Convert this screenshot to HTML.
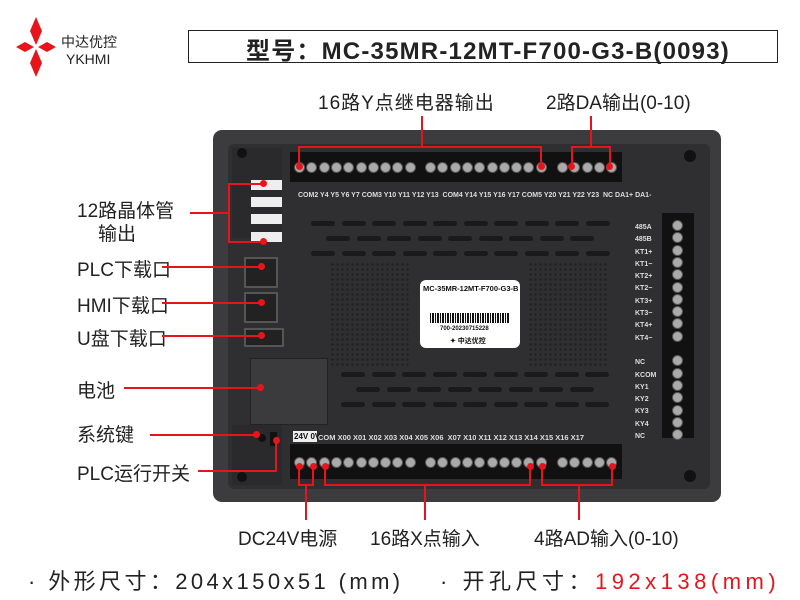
<!DOCTYPE html><html><head><meta charset="utf-8"><style>
body{margin:0;width:800px;height:600px;background:#fff;position:relative;overflow:hidden;font-family:"Liberation Sans","Noto Sans CJK SC",sans-serif}
.a{position:absolute}
.t{position:absolute;font-size:19px;color:#222;white-space:nowrap}
.r{position:absolute;background:#e8141b}
.d{position:absolute;width:7px;height:7px;border-radius:50%;background:#e8141b}
.sl{position:absolute;height:5px;width:24px;border-radius:3px;background:#1a1a1a}
.scr{position:absolute;width:9px;height:9px;border-radius:50%;background:#aaa;border:1px solid #555}
.sm{position:absolute;font-size:7px;color:#ddd;font-weight:bold;white-space:nowrap}
</style></head><body>
<svg class="a" style="left:16px;top:17px" width="40" height="60" viewBox="0 0 40 60"><polygon points="20,0 26,14 20,28 14,14" fill="#e8141b"/><polygon points="20,32 26,46 20,60 14,46" fill="#e8141b"/><polygon points="0,30 9,25 18,30 9,35" fill="#e8141b"/><polygon points="22,30 31,25 40,30 31,35" fill="#e8141b"/></svg>
<div class="t" style="left:61px;top:32px;font-size:14px">中达优控</div>
<div class="t" style="left:66px;top:51px;font-size:14px">YKHMI</div>
<div class="a" style="left:188px;top:30px;width:590px;height:33px;border:1.5px solid #222;box-sizing:border-box"></div>
<div class="t" style="left:246px;top:31px;font-size:24px;font-weight:bold;letter-spacing:1.2px">型号：MC-35MR-12MT-F700-G3-B(0093)</div>
<div class="t" style="left:318px;top:88px;letter-spacing:1px">16路Y点继电器输出</div>
<div class="t" style="left:546px;top:88px">2路DA输出(0-10)</div>

<div class="a" style="left:213px;top:130px;width:508px;height:372px;background:#3c3c3e;border-radius:9px"></div>
<div class="a" style="left:228px;top:144px;width:482px;height:345px;background:#2f2f31;border-radius:6px"></div>
<div class="a" style="left:290px;top:152px;width:332px;height:30px;background:#111"></div>
<div class="a" style="left:290px;top:444px;width:332px;height:35px;background:#111"></div>
<div class="a" style="left:662px;top:213px;width:32px;height:225px;background:#111"></div>
<div class="a" style="left:232px;top:148px;width:50px;height:90px;background:#2a2a2c"></div>
<div class="a" style="left:251px;top:180px;width:31px;height:10px;background:#eee"></div>
<div class="a" style="left:251px;top:197px;width:31px;height:10px;background:#eee"></div>
<div class="a" style="left:251px;top:214px;width:31px;height:10px;background:#eee"></div>
<div class="a" style="left:251px;top:232px;width:31px;height:10px;background:#eee"></div>
<div class="a" style="left:244px;top:257px;width:30px;height:27px;background:#222;border:2px solid #555"></div>
<div class="a" style="left:244px;top:292px;width:30px;height:27px;background:#222;border:2px solid #555"></div>
<div class="a" style="left:244px;top:328px;width:36px;height:15px;background:#222;border:2px solid #555"></div>
<div class="a" style="left:250px;top:358px;width:76px;height:65px;background:#3b3b3d;border:1px solid #222"></div>
<div class="a" style="left:330px;top:262px;width:80px;height:105px;background:radial-gradient(#222 35%,transparent 40%) 0 0/5px 5px"></div>
<div class="a" style="left:528px;top:262px;width:80px;height:105px;background:radial-gradient(#222 35%,transparent 40%) 0 0/5px 5px"></div>
<div class="a" style="left:420px;top:280px;width:100px;height:68px;background:#fff;border-radius:6px"></div>
<div class="sm" style="left:423px;top:284px;color:#111;font-size:7.5px">MC-35MR-12MT-F700-G3-B</div>
<div class="a" style="left:430px;top:313px;width:80px;height:10px;background:repeating-linear-gradient(90deg,#111 0 1px,#fff 1px 2px,#111 2px 4px,#fff 4px 5px)"></div>
<div class="sm" style="left:440px;top:326px;color:#111;font-size:6px">700-20230715228</div>
<div class="sm" style="left:450px;top:336px;color:#111;font-size:7px">✦ 中达优控</div>
<div id="slots"></div>
<div class="a" style="left:232px;top:425px;width:50px;height:60px;background:#2a2a2c"></div>
<div class="a" style="left:258px;top:434px;width:8px;height:8px;border-radius:50%;background:#111"></div>
<div class="a" style="left:270px;top:432px;width:7px;height:14px;background:#111"></div>
<div class="a" style="left:293px;top:431px;width:24px;height:11px;background:#eee"></div>
<div class="sm" style="left:294px;top:432px;color:#111;font-size:8px">24V 0V</div>
<div class="sm" style="left:318px;top:433px;font-size:7.5px">COM X00 X01 X02 X03 X04 X05 X06 &nbsp;X07 X10 X11 X12 X13 X14 X15 X16 X17</div>
<div class="sm" style="left:298px;top:192px;font-size:7px">COM2 Y4 Y5 Y6 Y7 COM3 Y10 Y11 Y12 Y13 &nbsp;COM4 Y14 Y15 Y16 Y17 COM5 Y20 Y21 Y22 Y23 &nbsp;NC DA1+ DA1-</div>
<div class="sm" style="left:635px;top:222px;line-height:12.3px">485A<br>485B<br>KT1+<br>KT1−<br>KT2+<br>KT2−<br>KT3+<br>KT3−<br>KT4+<br>KT4−<br><br>NC<br>KCOM<br>KY1<br>KY2<br>KY3<br>KY4<br>NC</div>
<div class="a" style="left:237px;top:148px;width:10px;height:10px;border-radius:50%;background:#111"></div>
<div class="a" style="left:684px;top:150px;width:12px;height:12px;border-radius:50%;background:#111"></div>
<div class="a" style="left:684px;top:470px;width:12px;height:12px;border-radius:50%;background:#111"></div>
<div class="a" style="left:237px;top:472px;width:10px;height:10px;border-radius:50%;background:#111"></div>
<script>
var s='';
function sl(y,x0,n){for(var i=0;i<n;i++)s+='<div class="sl" style="left:'+(x0+i*30.5)+'px;top:'+y+'px"></div>';}
sl(221,311,10);sl(236,326,9);sl(251,311,10);sl(372,341,9);sl(387,356,8);sl(402,341,9);
for(var i=0;i<10;i++){s+='<div class="scr" style="left:'+(294+i*12.3)+'px;top:162px"></div><div class="scr" style="left:'+(294+i*12.3)+'px;top:457px"></div>';
s+='<div class="scr" style="left:'+(425+i*12.3)+'px;top:162px"></div><div class="scr" style="left:'+(425+i*12.3)+'px;top:457px"></div>';}
for(var i=0;i<5;i++){s+='<div class="scr" style="left:'+(557+i*12.3)+'px;top:162px"></div><div class="scr" style="left:'+(557+i*12.3)+'px;top:457px"></div>';}
for(var i=0;i<18;i++){if(i==10)continue;s+='<div class="scr" style="left:672px;top:'+(220+i*12.3)+'px"></div>';}
document.getElementById('slots').innerHTML=s;
</script>

<div class="r" style="left:421px;top:116px;width:2px;height:32px"></div>
<div class="r" style="left:298px;top:146px;width:244px;height:2px"></div>
<div class="r" style="left:298px;top:146px;width:2px;height:20px"></div>
<div class="r" style="left:540px;top:146px;width:2px;height:20px"></div>
<div class="d" style="left:296px;top:163px"></div><div class="d" style="left:538px;top:163px"></div>
<div class="r" style="left:590px;top:116px;width:2px;height:32px"></div>
<div class="r" style="left:571px;top:146px;width:40px;height:2px"></div>
<div class="r" style="left:571px;top:146px;width:2px;height:20px"></div>
<div class="r" style="left:609px;top:146px;width:2px;height:20px"></div>
<div class="d" style="left:568px;top:163px"></div><div class="d" style="left:606px;top:163px"></div>

<div class="t" style="left:77px;top:196px">12路晶体管</div>
<div class="t" style="left:98px;top:219px">输出</div>
<div class="r" style="left:190px;top:212px;width:40px;height:2px"></div>
<div class="r" style="left:228px;top:183px;width:2px;height:60px"></div>
<div class="r" style="left:228px;top:183px;width:35px;height:2px"></div>
<div class="r" style="left:228px;top:241px;width:35px;height:2px"></div>
<div class="d" style="left:260px;top:180px"></div><div class="d" style="left:260px;top:238px"></div>
<div class="t" style="left:77px;top:255px">PLC下载口</div>
<div class="r" style="left:162px;top:266px;width:100px;height:2px"></div><div class="d" style="left:258px;top:263px"></div>
<div class="t" style="left:77px;top:291px">HMI下载口</div>
<div class="r" style="left:162px;top:302px;width:100px;height:2px"></div><div class="d" style="left:258px;top:299px"></div>
<div class="t" style="left:77px;top:324px">U盘下载口</div>
<div class="r" style="left:162px;top:335px;width:100px;height:2px"></div><div class="d" style="left:258px;top:332px"></div>
<div class="t" style="left:77px;top:376px">电池</div>
<div class="r" style="left:124px;top:387px;width:136px;height:2px"></div><div class="d" style="left:257px;top:384px"></div>
<div class="t" style="left:77px;top:420px">系统键</div>
<div class="r" style="left:150px;top:434px;width:106px;height:2px"></div><div class="d" style="left:253px;top:431px"></div>
<div class="t" style="left:77px;top:459px">PLC运行开关</div>
<div class="r" style="left:198px;top:470px;width:79px;height:2px"></div>
<div class="r" style="left:275px;top:440px;width:2px;height:32px"></div><div class="d" style="left:273px;top:437px"></div>

<div class="r" style="left:298px;top:466px;width:2px;height:20px"></div>
<div class="r" style="left:312px;top:466px;width:2px;height:20px"></div>
<div class="r" style="left:298px;top:484px;width:16px;height:2px"></div>
<div class="r" style="left:305px;top:484px;width:2px;height:36px"></div>
<div class="d" style="left:296px;top:463px"></div><div class="d" style="left:310px;top:463px"></div>
<div class="r" style="left:324px;top:466px;width:2px;height:20px"></div>
<div class="r" style="left:529px;top:466px;width:2px;height:20px"></div>
<div class="r" style="left:324px;top:484px;width:207px;height:2px"></div>
<div class="r" style="left:424px;top:484px;width:2px;height:36px"></div>
<div class="d" style="left:322px;top:463px"></div><div class="d" style="left:527px;top:463px"></div>
<div class="r" style="left:541px;top:466px;width:2px;height:20px"></div>
<div class="r" style="left:611px;top:466px;width:2px;height:20px"></div>
<div class="r" style="left:541px;top:484px;width:72px;height:2px"></div>
<div class="r" style="left:578px;top:484px;width:2px;height:36px"></div>
<div class="d" style="left:539px;top:463px"></div><div class="d" style="left:609px;top:463px"></div>

<div class="t" style="left:238px;top:524px">DC24V电源</div>
<div class="t" style="left:370px;top:524px">16路X点输入</div>
<div class="t" style="left:534px;top:524px">4路AD输入(0-10)</div>
<div class="t" style="left:28px;top:564px;font-size:22px;letter-spacing:3.4px">· 外形尺寸：204x150x51 (mm)</div>
<div class="t" style="left:440px;top:564px;font-size:22px;letter-spacing:4.5px">· 开孔尺寸：<span style="color:#e8141b">192x138(mm)</span></div>
</body></html>
